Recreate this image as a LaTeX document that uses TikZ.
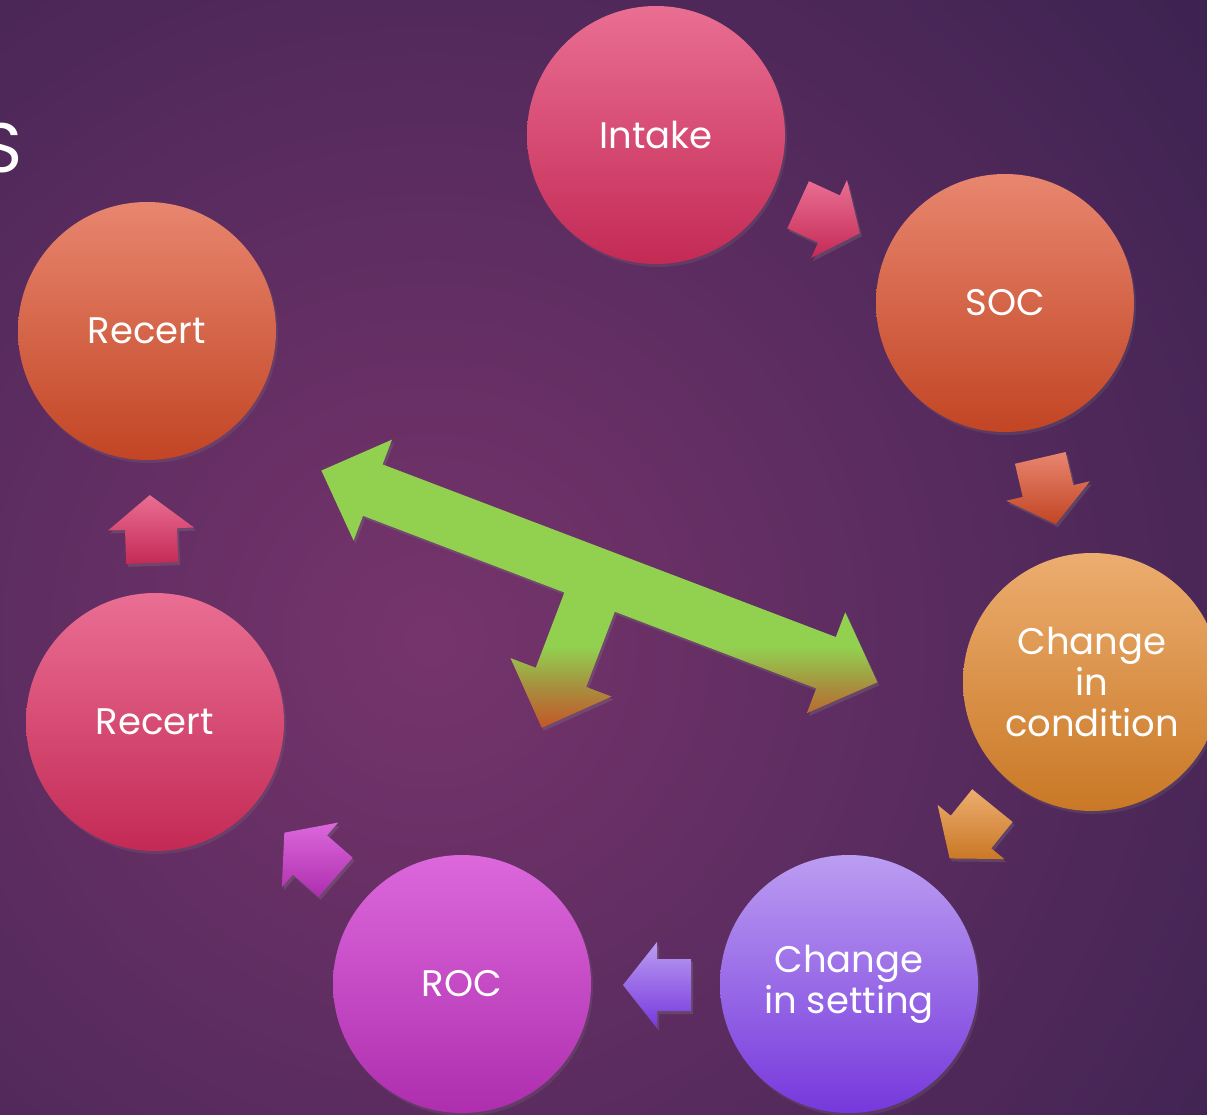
\documentclass[tikz,border=0pt]{standalone}
\usepackage{fontspec}
\setmainfont{Poppins}
\usepackage{xcolor}
\usetikzlibrary{positioning,shadows}

\definecolor{bginner}{RGB}{118,52,108}
\definecolor{bgouter}{RGB}{58,34,80}
\definecolor{pinktop}{RGB}{234,110,147}
\definecolor{pinkbot}{RGB}{195,42,85}
\definecolor{salmontop}{RGB}{232,134,111}
\definecolor{salmonbot}{RGB}{194,69,36}
\definecolor{orangetop}{RGB}{236,173,111}
\definecolor{orangebot}{RGB}{201,120,37}
\definecolor{violettop}{RGB}{187,157,242}
\definecolor{violetbot}{RGB}{118,56,220}
\definecolor{magentatop}{RGB}{220,104,220}
\definecolor{magentabot}{RGB}{174,46,174}
\definecolor{tgreen}{RGB}{146,208,80}
\definecolor{tolive}{RGB}{168,142,62}
\definecolor{tbrown}{RGB}{196,86,40}

\pgfdeclareverticalshading{tbar}{100bp}{color(0bp)=(tbrown); color(25bp)=(tbrown); color(32bp)=(tolive); color(39bp)=(tgreen); color(100bp)=(tgreen)}

\tikzset{
  stage/.style={circle, minimum size=258pt, inner sep=0pt, text=white, align=center,
    font=\fontsize{37}{41}\selectfont,
    drop shadow={opacity=0.2,shadow xshift=2pt,shadow yshift=-3pt}},
  arrowshadow/.style={drop shadow={opacity=0.3,shadow xshift=2pt,shadow yshift=-3pt}}
}

% block arrow: name, x, y, angle, colour
\newcommand{\blockarrow}[5]{%
  \begin{scope}[shift={(#2,#3)},rotate=#4]
    \foreach \px/\py [count=\i] in {-34/-26,0/-26,0/-43,34/0,0/43,0/26,-34/26}
      \coordinate (#1-\i) at (\px,\py);
  \end{scope}
  \shade[top color=#5top, bottom color=#5bot, arrowshadow]
    (#1-1) -- (#1-2) -- (#1-3) -- (#1-4) -- (#1-5) -- (#1-6) -- (#1-7) -- cycle;
}

\begin{document}
\begin{tikzpicture}[x=1pt,y=-1pt]
\useasboundingbox (0,0) rectangle (1207,1114);
\begin{scope}
\clip (0,0) rectangle (1207,1114);
\fill[bgouter] (0,0) rectangle (1207,1114);
\shade[inner color=bginner, outer color=bgouter] (430,640) circle (1050);
\end{scope}

\node[anchor=base east, inner sep=0pt, text=white, font=\fontsize{70}{70}\selectfont] (title) at (23,172) {S};

% stages
\node[stage, top color=pinktop, bottom color=pinkbot] (intake) at (656,135) {Intake};
\node[stage, top color=salmontop, bottom color=salmonbot] (soc) at (1005,303) {SOC};
\node[stage, top color=orangetop, bottom color=orangebot] (condition) at (1092,682) {Change\\in\\condition};
\node[stage, top color=violettop, bottom color=violetbot] (setting) at (849,984) {Change\\in setting};
\node[stage, top color=magentatop, bottom color=magentabot] (roc) at (462,984) {ROC};
\node[stage, top color=pinktop, bottom color=pinkbot] (recertlow) at (155,722) {Recert};
\node[stage, top color=salmontop, bottom color=salmonbot] (recertup) at (147,331) {Recert};

% arrows between stages
\blockarrow{a1}{829}{219}{-24.7}{pink}
\blockarrow{a2}{1048}{491}{-76.9}{salmon}
\blockarrow{a3}{971}{832}{-129}{orange}
\blockarrow{a4}{657}{985}{180}{violet}
\blockarrow{a5}{310}{855}{139}{magenta}
\blockarrow{a6}{151}{529}{92}{pink}

% green bar
\begin{scope}[shift={(599.4,576.4)},rotate=-20.85]
  \foreach \px/\py [count=\i] in {-297.5/0,-242.5/-54,-242.5/-27.5,242.5/-27.5,242.5/-54,297.5/0,242.5/54,242.5/27.5,27/27.5,27/108,54/108,0/162,-54/108,-27/108,-27/27.5,-242.5/27.5,-242.5/54}
    \coordinate (bar-\i) at (\px,\py);
\end{scope}
\shade[shading=tbar, arrowshadow] (bar-1) \foreach \i in {2,...,17}{ -- (bar-\i)} -- cycle;
\end{tikzpicture}
\end{document}
